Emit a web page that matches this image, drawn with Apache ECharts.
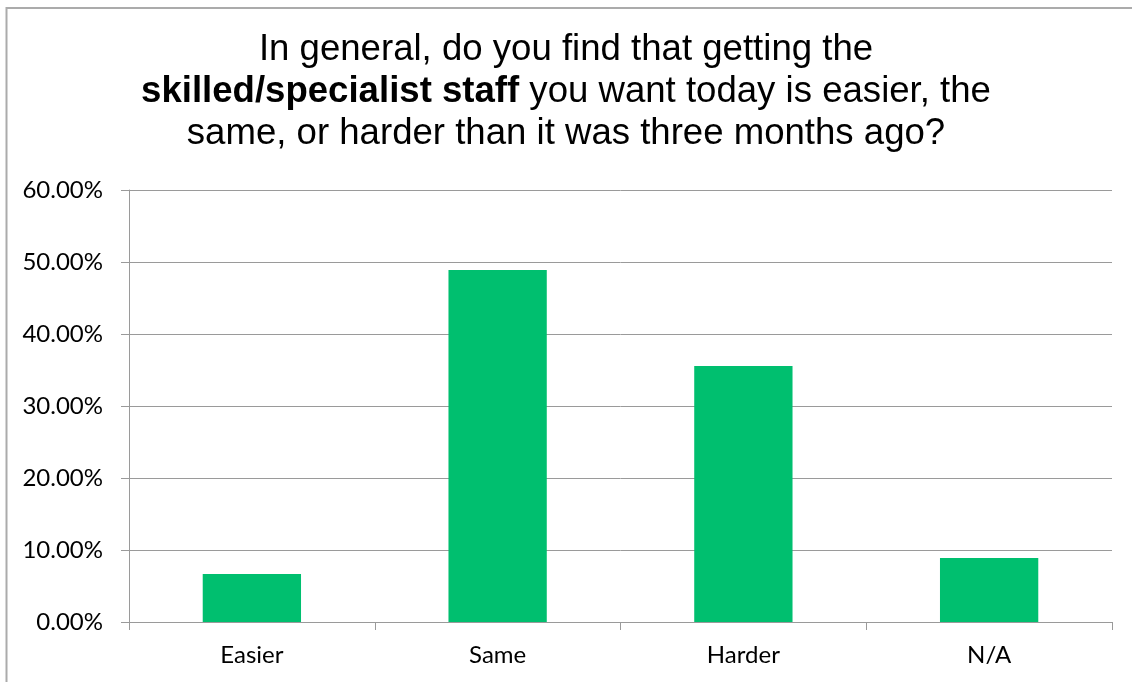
<!DOCTYPE html>
<html>
<head>
<meta charset="utf-8">
<script src="https://cdn.jsdelivr.net/npm/echarts@6/dist/echarts.min.js"></script>
<style>
html,body{margin:0;padding:0;background:#fff;overflow:hidden;}
#chart{width:1132px;height:682px;}
</style>
</head>
<body>
<div id="chart"></div>
<script>
const categories = ['Easier', 'Same', 'Harder', 'N/A'];
const values = [6.67, 48.89, 35.56, 8.89];
const yTicks = { min: 0, max: 60, interval: 10 };
const titleLine1 = 'In general, do you find that getting the';
const titleBold = 'skilled/specialist staff';
const titleLine2Rest = ' you want today is easier, the';
const titleLine3 = 'same, or harder than it was three months ago?';

const chart = echarts.init(document.getElementById('chart'));
const titleFont = { fontFamily: 'Liberation Sans, Arial, sans-serif', fontSize: 36.6, lineHeight: 42, color: '#000', fontWeight: 'normal' };
chart.setOption({
  animation: false,
  backgroundColor: '#fff',
  graphic: [{
    type: 'polyline', silent: true, z: 100,
    shape: { points: [[6.5, 700], [6.5, 8], [1132, 8]] },
    style: { fill: null, stroke: '#ababab', lineWidth: 2 }
  }],
  title: {
    left: 'center', top: 29, padding: 0,
    text: '{a|' + titleLine1 + '}\n{b|' + titleBold + '}{a|' + titleLine2Rest + '}\n{a|' + titleLine3 + '}',
    textStyle: {
      fontWeight: 'normal',
      rich: {
        a: Object.assign({}, titleFont),
        b: Object.assign({}, titleFont, { fontWeight: 'bold' })
      }
    }
  },
  grid: { left: 129, right: 20, top: 190, bottom: 60, containLabel: false },
  xAxis: {
    type: 'category',
    data: categories,
    axisLine: { lineStyle: { color: '#9a9a9a', width: 1 } },
    axisTick: { show: true, length: 8, alignWithLabel: false, lineStyle: { color: '#9a9a9a' } },
    axisLabel: { margin: 21, fontFamily: 'Lato, sans-serif', fontSize: 24, color: '#000' },
    splitLine: { show: false }
  },
  yAxis: {
    type: 'value',
    min: yTicks.min, max: yTicks.max, interval: yTicks.interval,
    axisLine: { show: true, lineStyle: { color: '#9a9a9a', width: 1 } },
    axisTick: { show: true, length: 8, lineStyle: { color: '#9a9a9a' } },
    axisLabel: {
      margin: 26, fontFamily: 'Lato, sans-serif', fontSize: 24, color: '#000',
      formatter: v => v.toFixed(2) + '%'
    },
    splitLine: { show: true, lineStyle: { color: '#9a9a9a', width: 1 } }
  },
  series: [{
    type: 'bar',
    data: values,
    barWidth: '40%',
    itemStyle: { color: '#00BF6F' }
  }]
});
</script>
</body>
</html>
